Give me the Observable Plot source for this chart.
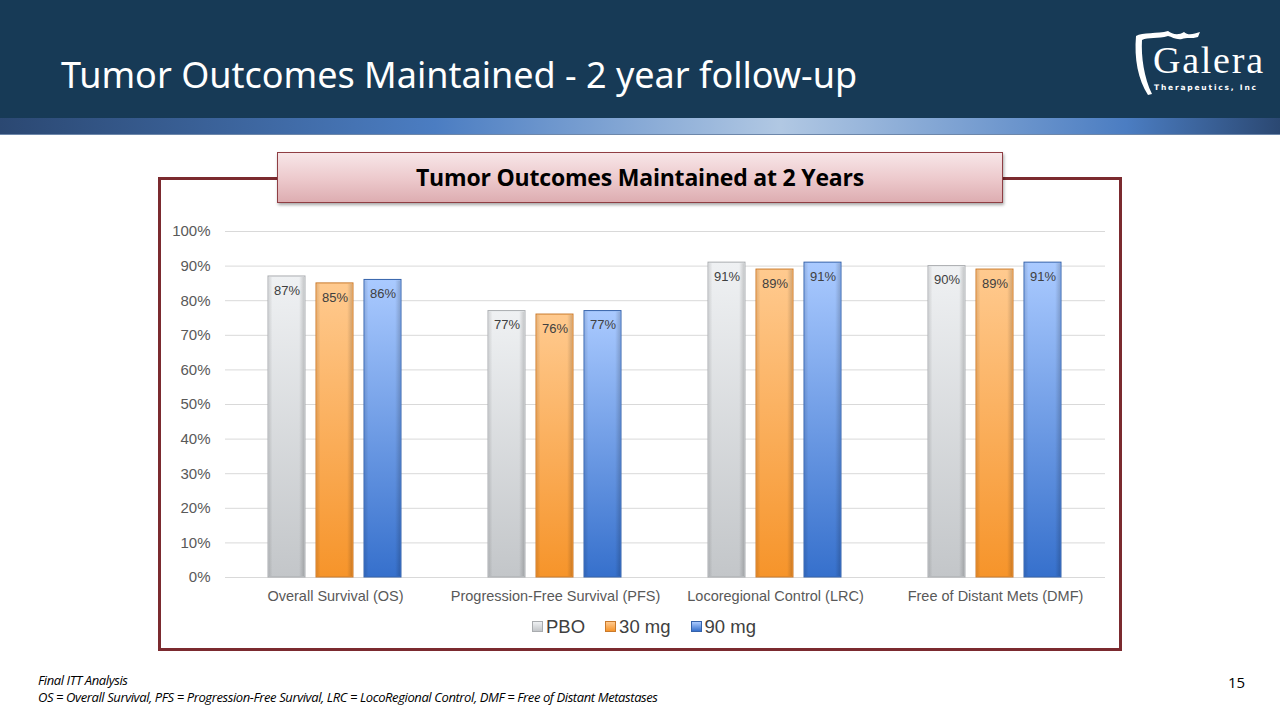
<!DOCTYPE html>
<html>
<head>
<meta charset="utf-8">
<script src="https://cdn.jsdelivr.net/npm/d3@7"></script>
<script src="https://cdn.jsdelivr.net/npm/@observablehq/plot@0.6"></script>
<style>
  html, body { margin: 0; padding: 0; }
  body { width: 1280px; height: 720px; position: relative; overflow: hidden; background: #fff; font-family: "Noto Sans", "Open Sans", sans-serif; }
  #header { position: absolute; left: 0; top: 0; width: 1280px; height: 118px; background: #173a56; }
  #strip { position: absolute; left: 0; top: 118px; width: 1280px; height: 16px;
    background: linear-gradient(to right, #2b4872 0%, #4b7dc2 34%, #b1c8e3 61%, #4b7dc2 88%, #2b4872 100%);
    border-bottom: 1px solid #6d87aa; }
  #title { position: absolute; left: 61px; top: 50px; color: #fff; font-size: 36px; font-family: "Noto Sans", "Open Sans", sans-serif; white-space: nowrap; }
  #logo { position: absolute; left: 1128px; top: 28px; width: 145px; height: 70px; }
  #frame { position: absolute; left: 158px; top: 177px; width: 958px; height: 468px; border: 3px solid #7b2a2f; box-sizing: content-box; }
  #boxtitle { position: absolute; left: 277px; top: 152px; width: 724px; height: 49px;
    background: linear-gradient(to bottom, #f7e6e8 0%, #ecc8cb 55%, #ddadb1 100%);
    border: 1px solid #8f3e43; box-shadow: 1px 2px 3px rgba(0,0,0,0.35);
    font-family: "Open Sans", "Noto Sans", sans-serif; font-weight: bold; font-size: 23px; color: #000;
    text-align: center; line-height: 49px; letter-spacing: -0.2px; }
  #chart { position: absolute; left: 160px; top: 215px; }
  #legend { position: absolute; left: 0; top: 616px; width: 1280px; text-align: center; font-family: "Liberation Sans", Arial, sans-serif; font-size: 18.5px; color: #404040; padding-left: 8px; box-sizing: border-box; }
  #legend span.item { margin: 0 10px; white-space: nowrap; }
  #legend span.sw { display: inline-block; width: 9px; height: 9px; margin-right: 3px; vertical-align: 1px; }
  #foot1 { position: absolute; left: 38px; top: 671px; font-size: 13px; font-style: italic; color: #000; font-family: "Open Sans", "Noto Sans", sans-serif; letter-spacing: -0.4px; }
  #foot2 { position: absolute; left: 38px; top: 688px; font-size: 13px; font-style: italic; color: #000; font-family: "Open Sans", "Noto Sans", sans-serif; letter-spacing: -0.4px; }
  #page { position: absolute; left: 1228px; top: 672px; font-size: 15px; color: #000; font-family: "Open Sans", "Noto Sans", sans-serif; }
</style>
</head>
<body>
<div id="header"></div>
<div id="strip"></div>
<div id="title">Tumor Outcomes Maintained - 2 year follow-up</div>
<svg id="logo" width="145" height="70" viewBox="0 0 145 70">
  <path d="M8,8 C14,4 30,6 40,3 C44,6 50,8 56,4 C60,8 66,6 72,4 L70,9 C64,11 58,9 54,11 C48,12 44,9 40,8 C30,11 20,9 14,12 C13,28 16,50 24,66 L20,67 C10,52 6,30 8,8 Z" fill="#fff"/>
  <text x="25" y="45" fill="#fff" font-family="Liberation Serif, DejaVu Serif, serif" font-size="38" textLength="110">Galera</text>
  <text x="26" y="62" fill="#fff" font-family="DejaVu Sans, sans-serif" font-size="7.5" font-weight="bold" letter-spacing="1.8">Therapeutics, Inc</text>
</svg>
<div id="frame"></div>
<div id="boxtitle">Tumor Outcomes Maintained at 2 Years</div>
<div id="chart"></div>
<div id="legend"></div>
<div id="foot1">Final ITT Analysis</div>
<div id="foot2">OS = Overall Survival, PFS = Progression-Free Survival, LRC = LocoRegional Control, DMF = Free of Distant Metastases</div>
<div id="page">15</div>
<script>
// ---- data ----
const categories = ["Overall Survival (OS)", "Progression-Free Survival (PFS)", "Locoregional Control (LRC)", "Free of Distant Mets (DMF)"];
const seriesNames = ["PBO", "30 mg", "90 mg"];
const pboValues = [0.87, 0.77, 0.91, 0.90];
const mg30Values = [0.85, 0.76, 0.89, 0.89];
const mg90Values = [0.86, 0.77, 0.91, 0.91];
const yTicks = [0, 0.1, 0.2, 0.3, 0.4, 0.5, 0.6, 0.7, 0.8, 0.9, 1.0];

// ---- styles ----
const gradIds = {"PBO": "gPBO", "30 mg": "g30", "90 mg": "g90"};
const gradStops = {
  "PBO": ["#eff1f3", "#c3c6c9"],
  "30 mg": ["#ffca8f", "#f6942a"],
  "90 mg": ["#aacaff", "#3670cc"]
};
const strokes = {"PBO": "#a9acaf", "30 mg": "#c97a2c", "90 mg": "#3562aa"};

const seriesValues = [pboValues, mg30Values, mg90Values];
const table = [];
categories.forEach((c, i) => {
  seriesNames.forEach((s, j) => {
    table.push({cat: c, series: s, value: seriesValues[j][i]});
  });
});

const chart = Plot.plot({
  width: 960,
  height: 400,
  marginLeft: 65,
  marginRight: 15,
  marginTop: 16,
  marginBottom: 38,
  style: {fontFamily: "'Liberation Sans', Arial, sans-serif", background: "transparent", overflow: "visible"},
  fx: {domain: categories, padding: 0, label: null, axis: "bottom", tickSize: 0, tickPadding: 13},
  x: {domain: seriesNames, paddingInner: 0.22, paddingOuter: 0.855, axis: null},
  y: {domain: [0, 1], label: null, ticks: yTicks, tickFormat: d3.format(".0%"), tickSize: 0, tickPadding: 15},
  marks: [
    Plot.ruleY(yTicks, {stroke: "#d9d9d9", strokeWidth: 1}),
    Plot.barY(table, {
      fx: "cat", x: "series", y: "value",
      fill: d => `url(#${gradIds[d.series]})`,
      stroke: d => strokes[d.series],
      strokeWidth: 1
    }),
    Plot.barY(table, {
      fx: "cat", x: "series", y: "value",
      fill: "url(#bevel)",
      inset: 1
    }),
    Plot.text(table, {
      fx: "cat", x: "series", y: "value",
      text: d => d3.format(".0%")(d.value),
      dy: 14,
      fill: "#404040", fontSize: 13
    })
  ]
});

// gradient defs
const ns = "http://www.w3.org/2000/svg";
const defs = document.createElementNS(ns, "defs");
function addGrad(id, x2, y2, stops) {
  const g = document.createElementNS(ns, "linearGradient");
  g.setAttribute("id", id);
  g.setAttribute("x1", "0"); g.setAttribute("y1", "0");
  g.setAttribute("x2", x2); g.setAttribute("y2", y2);
  for (const [off, col, op] of stops) {
    const st = document.createElementNS(ns, "stop");
    st.setAttribute("offset", off);
    st.setAttribute("stop-color", col);
    st.setAttribute("stop-opacity", op);
    g.appendChild(st);
  }
  defs.appendChild(g);
}
for (const s of seriesNames) {
  addGrad(gradIds[s], "0", "1", [["0", gradStops[s][0], 1], ["1", gradStops[s][1], 1]]);
}
addGrad("bevel", "1", "0", [["0", "#000", 0.10], ["0.1", "#000", 0], ["0.86", "#000", 0], ["1", "#000", 0.16]]);
chart.insertBefore(defs, chart.firstChild);
chart.querySelectorAll("[aria-label='y-axis tick label']").forEach(el => {
  el.setAttribute("font-size", "15"); el.setAttribute("fill", "#595959");
});
chart.querySelectorAll("[aria-label='fx-axis tick label']").forEach(el => {
  el.setAttribute("font-size", "14.5"); el.setAttribute("fill", "#595959");
});
document.getElementById("chart").appendChild(chart);

// legend
const legend = document.getElementById("legend");
for (const s of seriesNames) {
  const item = document.createElement("span");
  item.className = "item";
  const sw = document.createElement("span");
  sw.className = "sw";
  sw.style.background = `linear-gradient(to bottom, ${gradStops[s][0]}, ${gradStops[s][1]})`;
  sw.style.border = `1px solid ${strokes[s]}`;
  item.appendChild(sw);
  item.appendChild(document.createTextNode(s));
  legend.appendChild(item);
}
</script>
</body>
</html>
